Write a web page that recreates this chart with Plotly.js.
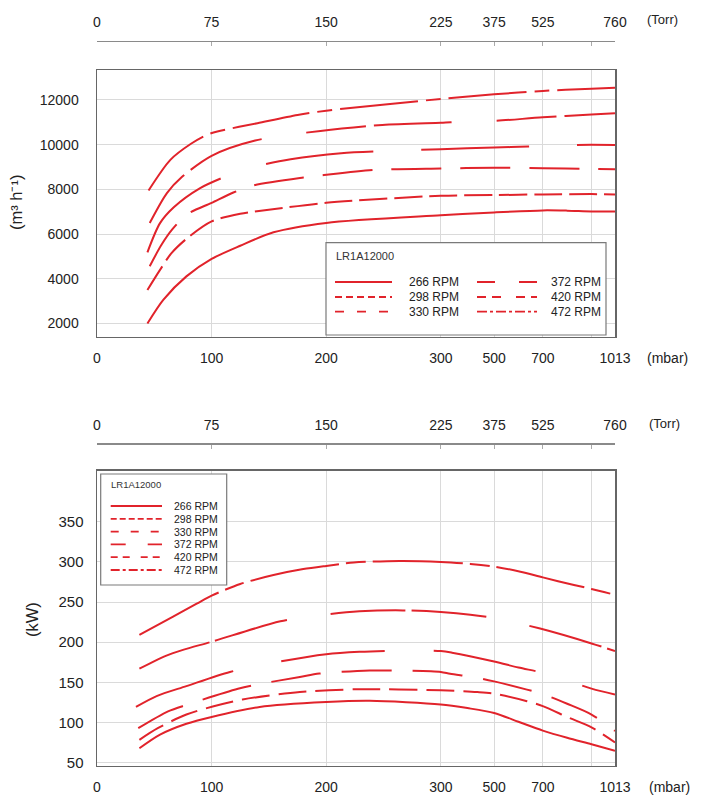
<!DOCTYPE html>
<html>
<head>
<meta charset="utf-8">
<script src="https://cdn.plot.ly/plotly-3.0.1.min.js"></script>
<style>
  html, body { margin: 0; padding: 0; background: #fff; }
  #chart { width: 705px; height: 800px; }
</style>
</head>
<body>
<div id="chart"></div>
<script>
// pressure axis is not linear: mbar breakpoints and where they sit on the axis
const mbarBreaks = [0, 100, 200, 300, 500, 700, 900, 1013];
const axisUnits  = [0, 100, 200, 300, 346.5, 389, 431.5, 452];
const mbarLabels = ['0', '100', '200', '300', '500', '700', '', '1013'];
const torrLabels = ['0', '75', '150', '225', '375', '525', '', '760'];

const speedTicks = [2000, 4000, 6000, 8000, 10000, 12000];
const powerTicks = [50, 100, 150, 200, 250, 300, 350];

const modelName = 'LR1A12000';
const rpm = ['266 RPM', '298 RPM', '330 RPM', '372 RPM', '420 RPM', '472 RPM'];

// pumping speed, m3/h  (x in mbar)
const flowP266 = [44, 58, 78, 100, 125, 154, 200, 300, 500, 700, 800, 900, 1013];
const flow266  = [2000, 3070, 4110, 4890, 5480, 6080, 6500, 6840, 6970, 7060, 7050, 7015, 7015];
const flowP298 = [44, 55, 65, 79, 100, 125, 155, 200, 300, 500, 700, 900, 1013];
const flow298  = [3500, 4400, 5150, 5830, 6570, 6910, 7120, 7400, 7715, 7745, 7775, 7790, 7775];
const flowP330 = [46, 56, 66, 79, 100, 119, 135, 180, 198, 243, 300, 500, 700, 900, 1013];
const flow330  = [4560, 5500, 6230, 6900, 7400, 7860, 8160, 8530, 8640, 8875, 8935, 8965, 8950, 8920, 8905];
const flowP372 = [44, 55, 67, 90, 110, 130, 169, 213, 266, 300, 500, 640, 836, 1013];
const flow372  = [5185, 6490, 7200, 8057, 8530, 8920, 9350, 9620, 9740, 9800, 9870, 9915, 9990, 9990];
const flowP420 = [46, 61, 74, 100, 138, 195, 249, 300, 337, 505, 700, 900, 1013];
const flow420  = [6494, 7834, 8550, 9500, 10185, 10616, 10884, 10980, 11003, 11063, 11226, 11345, 11405];
const flowP472 = [45, 64, 82, 96, 105, 140, 175, 200, 300, 500, 700, 900, 1013];
const flow472  = [7950, 9320, 10040, 10440, 10590, 10960, 11330, 11520, 12045, 12253, 12402, 12506, 12550];

// shaft power, kW  (x in mbar)
const powP266 = [37, 55, 78, 100, 142, 200, 238, 300, 400, 500, 600, 700, 800, 900, 1013];
const pow266  = [68, 85, 98.5, 107, 119.5, 125.5, 127, 122.5, 118, 112, 101, 90, 81, 73, 65];
const powP298 = [37, 53, 78, 101, 127, 177, 229, 300, 437, 500, 635, 700, 807, 900, 1013];
const pow298  = [78.5, 93, 110, 120, 128.7, 138, 141.5, 140.2, 138, 136, 126.6, 120.5, 106, 94, 75.3];
const powP330 = [36, 62, 79, 123, 140, 177, 194, 238, 257, 300, 335, 424, 500, 635, 700, 800, 900, 1013];
const pow330  = [93, 114, 122.4, 142, 147.5, 156.7, 161, 164.8, 164.8, 163, 160.7, 156.6, 151.3, 141, 135.5, 123.4, 110, 89.6];
const powP372 = [34, 52, 78, 116, 158, 200, 229, 264, 300, 342, 500, 600, 717, 900, 1013];
const pow372  = [119.5, 133, 145.4, 163, 175.5, 185, 188, 189.5, 189, 187, 176, 168.5, 160.7, 142.2, 135];
const powP420 = [37, 60, 75, 101, 160, 199, 229, 267, 300, 411, 513, 689, 900, 1013];
const pow420  = [167, 183, 190.5, 201, 226, 234.4, 238.4, 239.6, 237.6, 234.3, 229.3, 217, 198.5, 189];
const powP472 = [37, 66, 87, 100, 125, 154, 180, 200, 224, 264, 300, 411, 500, 608, 700, 828, 900, 1013];
const pow472  = [209, 231.6, 248, 258, 272.5, 283.6, 291, 295, 299.2, 301.2, 300, 297.5, 294.2, 287.7, 280.7, 271.2, 266.3, 259];

const flowX = [flowP266, flowP298, flowP330, flowP372, flowP420, flowP472];
const flowY = [flow266, flow298, flow330, flow372, flow420, flow472];
const powX  = [powP266, powP298, powP330, powP372, powP420, powP472];
const powY  = [pow266, pow298, pow330, pow372, pow420, pow472];

// ---- styling ----
const red = '#e1232b';
const font = 'Liberation Sans, Arial, Helvetica, sans-serif';
const speedDash = ['solid', '28px,7px', '50px,19px', '108px,48px', '60px,8px,78px,45px', '78px,8px,15px,8px'];
const powerDash = ['solid', '28px,9px', '50px,21px', '104px,49px', '75px,6px,75px,44px', '90px,7px,20px,7px'];
const keyDashTop = ['solid', '7px,4px', '9px,13px', '18px,24px', '9px,6px,9px,15px', '10px,3px,3px,3px'];
const keyDashBot = ['solid', '6px,3px', '8px,12px', '15px,22px', '7px,5px,7px,11px', '9px,3px,3px,3px'];

const W = 705, H = 800, ML = 97, MR = 90;
const PW = W - ML - MR;
const px = x => (x - ML) / PW;   // pixel -> paper
const py = y => (H - y) / H;

function toAxis(mbar) {
    for (let i = 1; i < mbarBreaks.length; i++) {
        if (mbar <= mbarBreaks[i]) {
            const f = (mbar - mbarBreaks[i - 1]) / (mbarBreaks[i] - mbarBreaks[i - 1]);
            return axisUnits[i - 1] + f * (axisUnits[i] - axisUnits[i - 1]);
        }
    }
    return axisUnits[axisUnits.length - 1];
}

const tickPos = mbarBreaks.map(toAxis);

const traces = [];
rpm.forEach((name, i) => {
    traces.push({
        x: flowX[i].map(toAxis), y: flowY[i], xaxis: 'x', yaxis: 'y',
        type: 'scatter', mode: 'lines', name: name, showlegend: false, hoverinfo: 'skip',
        line: {color: red, width: 2, dash: speedDash[i], shape: 'spline', smoothing: 0.8}
    });
    traces.push({
        x: powX[i].map(toAxis), y: powY[i], xaxis: 'x2', yaxis: 'y2',
        type: 'scatter', mode: 'lines', name: name, showlegend: false, hoverinfo: 'skip',
        line: {color: red, width: 2, dash: powerDash[i], shape: 'spline', smoothing: 0.8}
    });
});
// empty traces so the Torr axes get drawn
traces.push({x: tickPos, y: tickPos.map(() => null), xaxis: 'x3', yaxis: 'y', mode: 'lines', showlegend: false, hoverinfo: 'skip'});
traces.push({x: tickPos, y: tickPos.map(() => null), xaxis: 'x4', yaxis: 'y2', mode: 'lines', showlegend: false, hoverinfo: 'skip'});

const tickFont = {family: font, size: 14, color: '#222'};

const xBase = {
    range: [0, 452], tickvals: tickPos, ticktext: mbarLabels, tickfont: tickFont,
    showgrid: true, gridcolor: '#dadada', gridwidth: 1, zeroline: false,
    showline: true, mirror: true, linecolor: '#666', linewidth: 1.5, ticks: '',
    ticklabelstandoff: 8
};
const torrBase = {
    range: [0, 452], tickvals: tickPos, ticktext: torrLabels, tickfont: tickFont,
    side: 'top', anchor: 'free', showgrid: false, zeroline: false,
    showline: true, linecolor: '#8a8a8a', linewidth: 1.2,
    ticks: 'inside', ticklen: 4, tickcolor: '#aaa', ticklabelstandoff: 8
};
const yBase = {
    tickfont: tickFont, tickformat: 'd', showgrid: true, gridcolor: '#dadada', gridwidth: 1, zeroline: false,
    showline: true, mirror: true, linecolor: '#666', linewidth: 1.5, ticks: ''
};

const shapes = [];
const annotations = [];

function note(text, x, y, size, opts) {
    annotations.push(Object.assign({
        text: text, x: px(x), y: py(y), xref: 'paper', yref: 'paper',
        xanchor: 'center', yanchor: 'middle',
        showarrow: false, font: {family: font, size: size, color: '#222'}
    }, opts || {}));
}

// unit labels and axis titles
note('(Torr)', 662, 19.5, 13);
note('(mbar)', 667, 358, 14);
note('(Torr)', 664, 423, 13);
note('(mbar)', 669, 787, 14);
note('(m³ h⁻¹)', 16, 203, 16.5, {textangle: -90});
note('(kW)', 32, 620, 16.5, {textangle: -90});

// hand drawn keys (plotly legend rows are too tall for these boxes)
function key(box, titlePos, rows, cols, dashes, size) {
    shapes.push({
        type: 'rect', xref: 'paper', yref: 'paper',
        x0: px(box[0]), x1: px(box[1]), y0: py(box[3]), y1: py(box[2]),
        line: {color: '#7a7a7a', width: 1.2}, fillcolor: '#fff', layer: 'above'
    });
    note(modelName, titlePos[0], titlePos[1], size - 1, {xanchor: 'left', font: {family: font, size: size - 1, color: '#333'}});
    rpm.forEach((name, i) => {
        const c = cols[Math.floor(i / rows.length)];
        const y = rows[i % rows.length];
        shapes.push({
            type: 'line', xref: 'paper', yref: 'paper',
            x0: px(c[0]), x1: px(c[1]), y0: py(y), y1: py(y),
            line: {color: red, width: 1.8, dash: dashes[i]}, layer: 'above'
        });
        note(name, c[2], y, size, {xanchor: 'left'});
    });
}

key([326, 606, 242.7, 335], [334, 256], [282, 297, 311.7],
    [[335, 392, 407], [477, 537, 549]], keyDashTop, 12);
key([100.7, 226.7, 474, 585], [109, 484.5], [506, 518.8, 531.6, 544.4, 557.2, 570],
    [[110.7, 162, 172]], keyDashBot, 10.5);

const layout = {
    width: W, height: H,
    margin: {l: ML, r: MR, t: 0, b: 0},
    paper_bgcolor: '#fff', plot_bgcolor: '#fff',
    showlegend: false,
    font: {family: font, color: '#222'},
    xaxis: Object.assign({}, xBase, {anchor: 'y'}),
    xaxis2: Object.assign({}, xBase, {anchor: 'y2'}),
    xaxis3: Object.assign({}, torrBase, {overlaying: 'x', position: py(40.7)}),
    xaxis4: Object.assign({}, torrBase, {overlaying: 'x2', position: py(443.3)}),
    yaxis: Object.assign({}, yBase, {
        anchor: 'x', domain: [py(336.5), py(70)], range: [1420, 13340],
        tickvals: speedTicks, ticklabelstandoff: 14
    }),
    yaxis2: Object.assign({}, yBase, {
        anchor: 'x2', domain: [py(765.7), py(470.7)], range: [46.3, 413.5],
        tickvals: powerTicks, ticklabelstandoff: 9, tickfont: {family: font, size: 15, color: '#222'}
    }),
    shapes: shapes,
    annotations: annotations
};

Plotly.newPlot('chart', traces, layout, {staticPlot: true, displayModeBar: false});
</script>
</body>
</html>
